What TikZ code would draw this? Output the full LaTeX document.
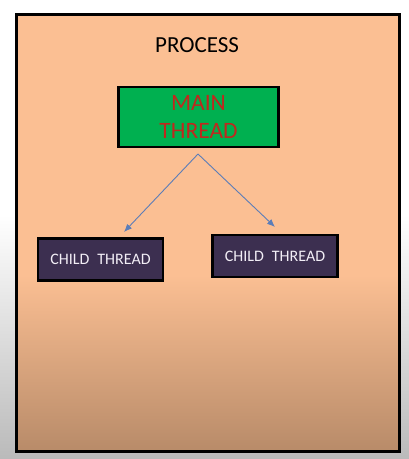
\documentclass[tikz,border=0pt]{standalone}
\usepackage{fontspec}
\setmainfont{Carlito}
\usetikzlibrary{arrows.meta}
\begin{document}
\begin{tikzpicture}[x=1pt,y=-1pt,
  childbox/.style={draw=black,line width=2.2pt,fill=childfill,minimum width=125pt,minimum height=42pt,text=childtext,font=\fontsize{16}{19}\selectfont,inner sep=0pt},
  link/.style={draw=arrowblue,line width=0.9pt,-{Latex[length=8pt,width=6.5pt]}}]
\definecolor{childfill}{HTML}{3C2F50}
\definecolor{childtext}{HTML}{F2EEF6}
\definecolor{arrowblue}{HTML}{5B7DB8}
\definecolor{maingreen}{HTML}{00B050}
\definecolor{mainred}{HTML}{C0281E}
\definecolor{peachtop}{HTML}{FBBF93}
\definecolor{peachbot}{HTML}{B88B69}
\useasboundingbox (0,0) rectangle (409,459);
% outer background
\fill[white] (0,0) rectangle (409,215);
\shade[top color=white,bottom color=black!27] (0,215) rectangle (409,459);
% process box
\fill[peachtop] (16,14) rectangle (399,275);
\shade[top color=peachtop,bottom color=peachbot] (16,275) rectangle (399,451);
\draw[line width=3pt] (16,14) rectangle (399,451);
\node[font=\fontsize{23}{26}\selectfont,text=black] (proc) at (197,45) {PROCESS};
\node[draw=black,line width=2.5pt,fill=maingreen,minimum width=160pt,minimum height=60pt,text=mainred,font=\fontsize{23.5}{28}\selectfont,align=center,inner sep=0pt] (main) at (198.5,117) {MAIN\\THREAD};
\node[childbox] (c1) at (100.5,259.5) {CHILD\hspace{0.5em}THREAD};
\node[childbox] (c2) at (275,256) {CHILD\hspace{0.5em}THREAD};
\coordinate (src) at (198,154);
\coordinate (t1) at (124,232);
\coordinate (t2) at (275,227);
\draw[link] (src) -- (t1);
\draw[link] (src) -- (t2);
\end{tikzpicture}
\end{document}
